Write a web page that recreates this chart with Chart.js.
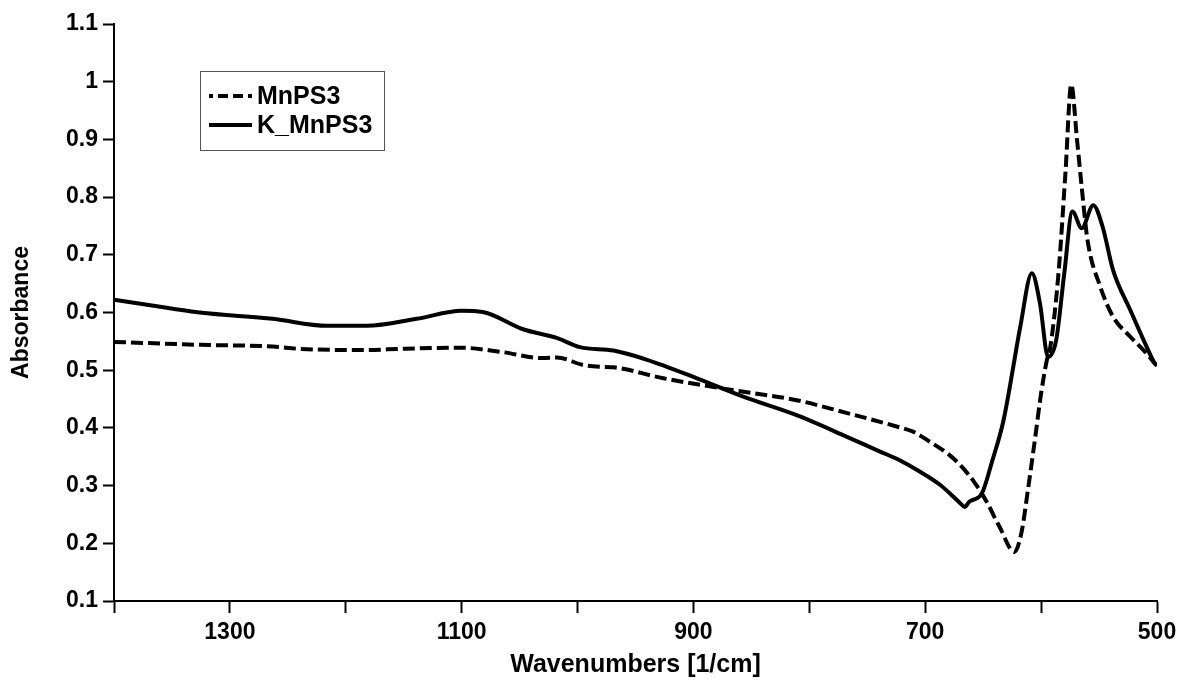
<!DOCTYPE html>
<html>
<head>
<meta charset="utf-8">
<script src="https://cdn.jsdelivr.net/npm/chart.js@4.4.1/dist/chart.umd.min.js"></script>
<style>
  html, body { margin: 0; padding: 0; background: #fff; }
  canvas { display: block; }
</style>
</head>
<body>
<canvas id="chart" width="1180" height="681"></canvas>
<script>
// series names
const seriesNames = ['MnPS3', 'K_MnPS3'];

// MnPS3 (dashed) - wavenumber / absorbance
const mnWave = [1400, 1326, 1263, 1240, 1182, 1153, 1101, 1067, 1030, 1018, 995, 981, 969, 926, 868, 811, 768, 724, 710, 696, 681, 670, 658, 647, 636, 623, 617, 611, 605, 600, 595, 592, 585, 579, 574, 569, 565, 560, 549, 538, 523, 509, 502, 500];
const mnAbs  = [0.549, 0.544, 0.541, 0.537, 0.535, 0.537, 0.539, 0.532, 0.521, 0.522, 0.509, 0.506, 0.505, 0.486, 0.466, 0.448, 0.426, 0.402, 0.393, 0.376, 0.356, 0.336, 0.307, 0.272, 0.229, 0.185, 0.218, 0.298, 0.385, 0.460, 0.518, 0.541, 0.668, 0.842, 0.995, 0.899, 0.818, 0.726, 0.645, 0.593, 0.558, 0.529, 0.512, 0.508];

// K_MnPS3 (solid)
const kWave = [1400, 1370, 1326, 1263, 1216, 1182, 1139, 1100, 1082, 1047, 1018, 998, 969, 940, 897, 854, 811, 768, 739, 722, 707, 687, 670, 666, 662, 651, 642, 633, 627, 623, 618, 608, 601, 594, 587, 580, 573, 565, 555, 547, 538, 523, 509, 502, 500];
const kAbs  = [0.622, 0.613, 0.600, 0.589, 0.577, 0.577, 0.589, 0.603, 0.601, 0.571, 0.556, 0.540, 0.534, 0.518, 0.486, 0.452, 0.422, 0.385, 0.359, 0.344, 0.327, 0.301, 0.270, 0.263, 0.272, 0.287, 0.344, 0.408, 0.471, 0.518, 0.575, 0.668, 0.616, 0.523, 0.552, 0.668, 0.775, 0.746, 0.786, 0.749, 0.674, 0.604, 0.541, 0.512, 0.508];

// axis ticks
const xLabelTicks = [1300, 1100, 900, 700, 500];
const yTicks = [0.1, 0.2, 0.3, 0.4, 0.5, 0.6, 0.7, 0.8, 0.9, 1, 1.1];

const FONT = 'Arial, "Liberation Sans", sans-serif';

function toPoints(xs, ys) {
  return xs.map((x, i) => ({ x: x, y: ys[i] }));
}

// legend box like the original (framed, top left)
const frameLegend = {
  id: 'frameLegend',
  afterDraw(chart) {
    const ctx = chart.ctx;
    ctx.save();
    ctx.strokeStyle = '#555';
    ctx.lineWidth = 1;
    ctx.strokeRect(200.5, 71.5, 184, 79);
    const rows = [
      { y: 96, dash: [10, 5], label: seriesNames[0] },
      { y: 125, dash: [], label: seriesNames[1] }
    ];
    rows.forEach(r => {
      ctx.beginPath();
      ctx.setLineDash(r.dash);
      ctx.lineDashOffset = 6;
      ctx.lineWidth = 4;
      ctx.strokeStyle = '#000';
      ctx.moveTo(209, r.y);
      ctx.lineTo(252, r.y);
      ctx.stroke();
      ctx.setLineDash([]);
      ctx.fillStyle = '#000';
      ctx.font = 'bold 25px ' + FONT;
      ctx.textBaseline = 'middle';
      ctx.fillText(r.label, 257, r.y + 1);
    });
    ctx.restore();
  }
};

new Chart(document.getElementById('chart'), {
  type: 'line',
  data: {
    datasets: [
      {
        label: seriesNames[0],
        data: toPoints(mnWave, mnAbs),
        borderColor: '#000',
        borderWidth: 4,
        borderDash: [12, 5],
        pointRadius: 0,
        cubicInterpolationMode: 'monotone',
        fill: false
      },
      {
        label: seriesNames[1],
        data: toPoints(kWave, kAbs),
        borderColor: '#000',
        borderWidth: 4,
        pointRadius: 0,
        cubicInterpolationMode: 'monotone',
        fill: false
      }
    ]
  },
  options: {
    responsive: false,
    animation: false,
    layout: { padding: { top: 24, right: 0, left: 0, bottom: 0 } },
    plugins: {
      legend: { display: false },
      tooltip: { enabled: false }
    },
    scales: {
      x: {
        type: 'linear',
        reverse: true,
        min: 500,
        max: 1400,
        afterFit: s => {
          s.height = 80;
          s.paddingRight = 23;
          s.paddingLeft = 0;
        },
        afterBuildTicks: s => {
          const t = [];
          for (let v = 1400; v >= 500; v -= 100) t.push({ value: v });
          s.ticks = t;
        },
        ticks: {
          autoSkip: false,
          maxRotation: 0,
          color: '#000',
          padding: 6,
          font: { family: FONT, size: 23, weight: 'bold' },
          callback: v => xLabelTicks.includes(v) ? String(v) : ''
        },
        grid: {
          drawOnChartArea: false,
          drawTicks: true,
          tickLength: 12,
          tickColor: '#000',
          tickWidth: 2
        },
        border: { display: true, color: '#000', width: 2 },
        title: {
          display: true,
          text: 'Wavenumbers [1/cm]',
          color: '#000',
          padding: 1,
          font: { family: FONT, size: 25, weight: 'bold' }
        }
      },
      y: {
        min: 0.1,
        max: 1.1,
        afterFit: s => { s.width = 114; },
        afterBuildTicks: s => { s.ticks = yTicks.map(v => ({ value: v })); },
        ticks: {
          color: '#000',
          padding: 5,
          font: { family: FONT, size: 23, weight: 'bold' },
          callback: v => String(parseFloat(Number(v).toFixed(1)))
        },
        grid: {
          drawOnChartArea: false,
          drawTicks: true,
          tickLength: 11,
          tickColor: '#000',
          tickWidth: 2
        },
        border: { display: true, color: '#000', width: 2 },
        title: {
          display: true,
          text: 'Absorbance',
          color: '#000',
          padding: 8,
          font: { family: FONT, size: 23, weight: 'bold' }
        }
      }
    }
  },
  plugins: [frameLegend]
});
</script>
</body>
</html>
